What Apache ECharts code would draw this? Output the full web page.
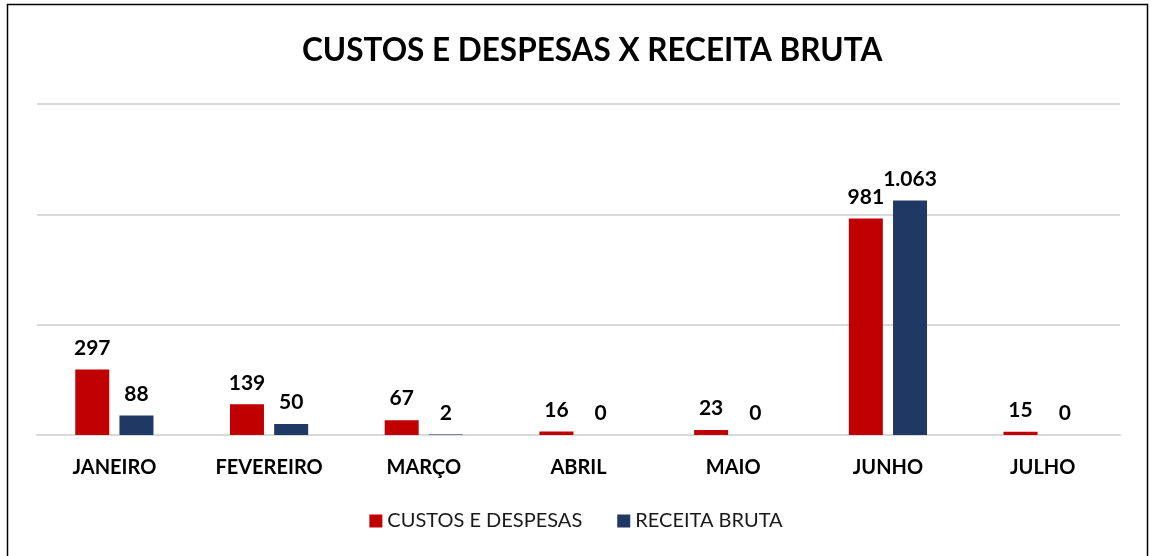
<!DOCTYPE html>
<html><head><meta charset="utf-8">
<script src="https://cdn.jsdelivr.net/npm/echarts@6/dist/echarts.min.js"></script>
<style>html,body{margin:0;padding:0;background:#fff}#c{width:1152px;height:556px}</style>
</head><body><div id="c"></div>
<script>
const categories = ['JANEIRO','FEVEREIRO','MARÇO','ABRIL','MAIO','JUNHO','JULHO'];
const custos = [297,139,67,16,23,981,15];
const receita = [88,50,2,0,0,1063,0];
const seriesNames = ['CUSTOS E DESPESAS','RECEITA BRUTA'];
const titleText = 'CUSTOS E DESPESAS X RECEITA BRUTA';

function fmt(v){ return String(v).replace(/\B(?=(\d{3})+(?!\d))/g,'.'); }
const FONT = 'Lato';
const labelStyle = {show:true, position:'top', distance:11, fontFamily:FONT, fontWeight:'bold', fontSize:21, color:'#000',
  formatter:p=>fmt(p.value)};

const chart = echarts.init(document.getElementById('c'));
chart.setOption({
  animation:false,
  backgroundColor:'#fff',
  title:{text:titleText, left:297, top:30, textStyle:{fontFamily:FONT, fontWeight:'bold', fontSize:31.5, color:'#000'}},
  legend:{data:seriesNames, bottom:20, left:'center', itemWidth:13, itemHeight:13, itemGap:35, icon:'rect',
    textStyle:{fontFamily:FONT, fontSize:20, color:'#1a1a1a'}},
  grid:{left:37, right:32, top:104, bottom:121},
  xAxis:{type:'category', data:categories, axisTick:{show:false},
    axisLine:{lineStyle:{color:'#d9d9d9', width:2}},
    axisLabel:{fontFamily:FONT, fontWeight:'bold', fontSize:20, color:'#000', margin:23}},
  yAxis:{type:'value', min:0, max:1500, interval:500, axisLabel:{show:false}, axisLine:{show:false}, axisTick:{show:false},
    splitLine:{lineStyle:{color:'#d9d9d9', width:2}}},
  series:[
    {name:seriesNames[0], type:'bar', data:custos, barWidth:34, barGap:'30%', itemStyle:{color:'#c00000'}, label:labelStyle},
    {name:seriesNames[1], type:'bar', data:receita, barWidth:34, itemStyle:{color:'#203864'}, label:labelStyle}
  ],
  graphic:[{type:'rect', shape:{x:7.5,y:4.5,width:1140,height:620}, style:{fill:'none', stroke:'#000', lineWidth:1.5}, silent:true}]
});
</script></body></html>
